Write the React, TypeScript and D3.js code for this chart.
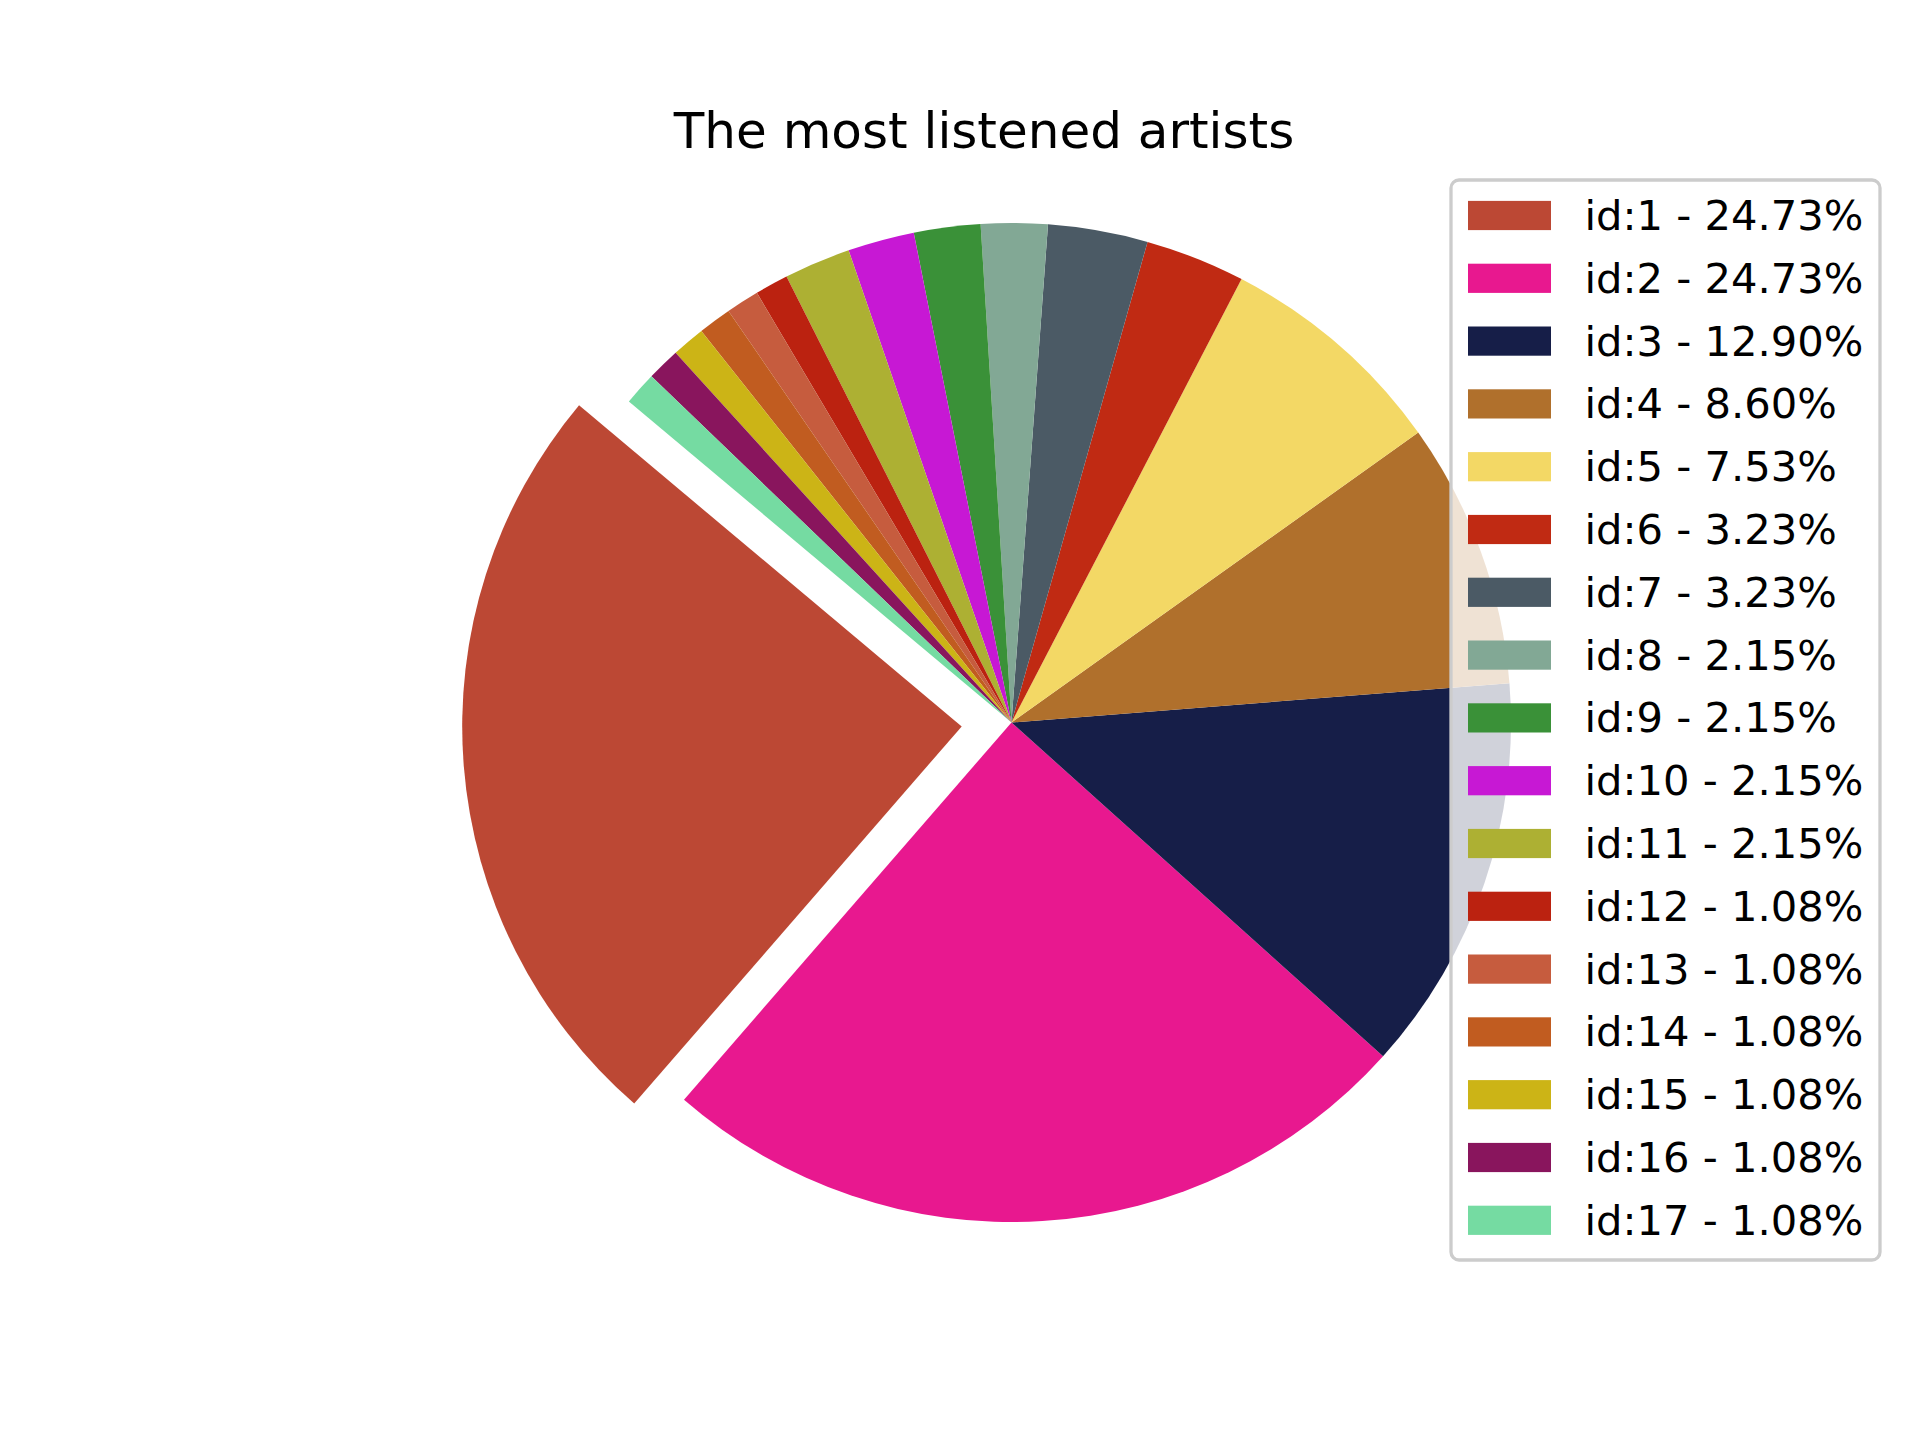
import React, { useEffect, useRef } from 'react';
import * as d3 from 'd3';

// listen counts per artist (93 total)
const ids = ['1', '2', '3', '4', '5', '6', '7', '8', '9', '10', '11', '12', '13', '14', '15', '16', '17'];
const counts = [23, 23, 12, 8, 7, 3, 3, 2, 2, 2, 2, 1, 1, 1, 1, 1, 1];
const colors = [
    '#bc4834', '#e8188f', '#161e48', '#b0702c', '#f3d865', '#c02a13', '#4b5a65', '#82a895',
    '#3a9138', '#c718d4', '#adb033', '#bb2210', '#c65c3e', '#c15c20', '#ccb416', '#89155d', '#75dba2'
];
const explode = [0.1, 0, 0, 0, 0, 0, 0, 0, 0, 0, 0, 0, 0, 0, 0, 0, 0];
const title = 'The most listened artists';

const W = 1920;
const H = 1440;

const App = () => {
    const svgRef = useRef<SVGSVGElement>(null);

    useEffect(() => {
        document.body.style.margin = '0';
        drawChart();
    }, []);

    const drawChart = () => {
        const svg = d3.select(svgRef.current);
        svg.selectAll('*').remove();
        svg.attr('width', W).attr('height', H);

        const cx = 1011.5;
        const cy = 722.5;
        const r = 499.5;
        const total = d3.sum(counts);
        const font = "'DejaVu Sans', sans-serif";

        // title
        svg.append('text')
            .attr('x', 984)
            .attr('y', 148)
            .attr('text-anchor', 'middle')
            .style('font-family', font)
            .style('font-size', '50px')
            .text(title);

        // pie: start at 140deg, counterclockwise (matplotlib style)
        const start = (90 - 140) * Math.PI / 180;
        const pie = d3.pie<number>()
            .sort(null)
            .startAngle(start)
            .endAngle(start - 2 * Math.PI);
        const arcs = pie(counts);
        const arc = d3.arc<d3.PieArcDatum<number>>().innerRadius(0).outerRadius(r);

        const g = svg.append('g').attr('transform', `translate(${cx},${cy})`);
        g.selectAll('path')
            .data(arcs)
            .enter().append('path')
            .attr('d', d => arc(d))
            .attr('transform', (d, i) => {
                const mid = (d.startAngle + d.endAngle) / 2;
                const off = explode[i] * r;
                return `translate(${off * Math.sin(mid)},${-off * Math.cos(mid)})`;
            })
            .style('fill', (d, i) => colors[i]);

        // legend
        const lx = 1451;
        const ly = 180;
        const lw = 429;
        const lh = 1080;
        const rowGap = 62.8;
        const legend = svg.append('g');
        legend.append('rect')
            .attr('x', lx)
            .attr('y', ly)
            .attr('width', lw)
            .attr('height', lh)
            .attr('rx', 8)
            .style('fill', 'rgba(255,255,255,0.8)')
            .style('stroke', '#cccccc')
            .style('stroke-width', 3.3);

        const rows = legend.selectAll('.row')
            .data(ids)
            .enter().append('g')
            .attr('class', 'row')
            .attr('transform', (d, i) => `translate(0,${215.5 + i * rowGap})`);

        rows.append('rect')
            .attr('x', 1468)
            .attr('y', -14.6)
            .attr('width', 83)
            .attr('height', 29.2)
            .style('fill', (d, i) => colors[i]);

        rows.append('text')
            .attr('x', 1584.5)
            .attr('y', 14.5)
            .style('font-family', font)
            .style('font-size', '41.67px')
            .text((d, i) => `id:${d} - ${(counts[i] / total * 100).toFixed(2)}%`);
    };

    return <svg ref={svgRef}></svg>;
};

export default App;
